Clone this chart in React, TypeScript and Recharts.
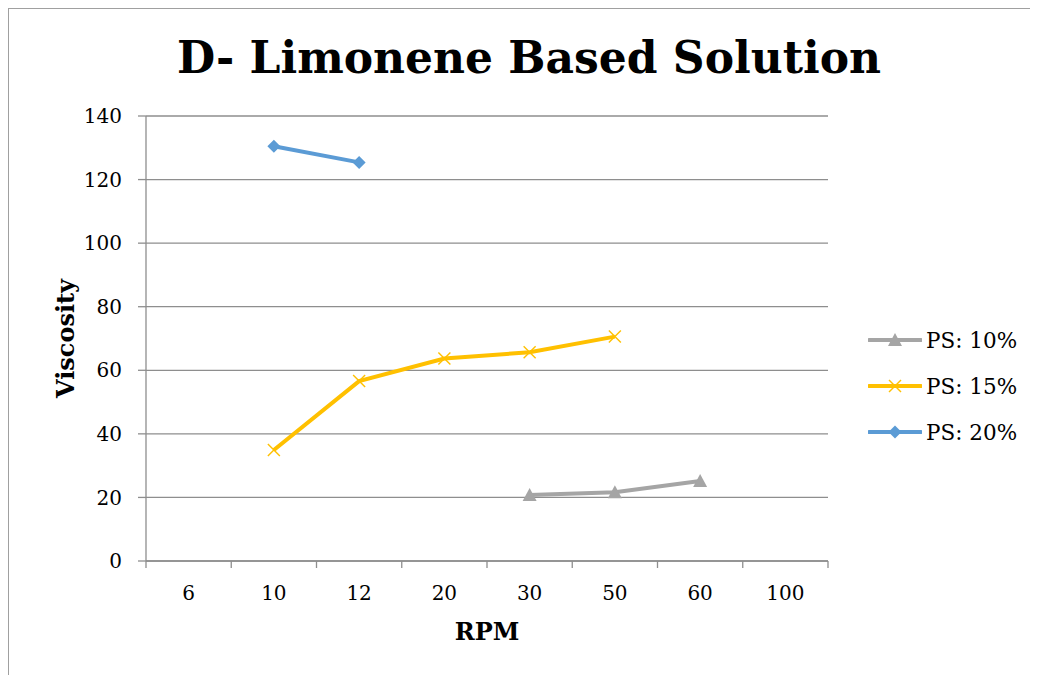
import React from 'react';
import { LineChart, Line, XAxis, YAxis, CartesianGrid, Legend } from 'recharts';

const CATEGORIES = ['6', '10', '12', '20', '30', '50', '60', '100'];
const PS10 = [null, null, null, null, 20.8, 21.6, 25.2, null];
const PS15 = [null, 34.9, 56.6, 63.7, 65.7, 70.6, null, null];
const PS20 = [null, 130.5, 125.4, null, null, null, null, null];
const Y_TICKS = [0, 20, 40, 60, 80, 100, 120, 140];
const SERIES_NAMES = ['PS: 10%', 'PS: 15%', 'PS: 20%'];
const SERIES_KEYS = ['ps10', 'ps15', 'ps20'];
const SERIES_COLORS = ['#A5A5A5', '#FFC000', '#5B9BD5'];
const SERIES_MARKERS = ['triangle', 'cross', 'diamond'];

const data = CATEGORIES.map((c, i) => ({ rpm: c, ps10: PS10[i], ps15: PS15[i], ps20: PS20[i] }));

const W = 1030;
const H = 667;
const MARGIN = { top: 108, right: 0, bottom: 50, left: 0 };
const Y_AXIS_W = 138;
const LEGEND_W = 210;
const X_AXIS_H = 64;
const PLOT_W = W - MARGIN.left - MARGIN.right - Y_AXIS_W - LEGEND_W;

const SERIF = '"DejaVu Serif", Georgia, serif';
const AXIS_COLOR = '#8E8E8E';

function marker(type: string, cx: number, cy: number, color: string, key?: string) {
  if (type === 'triangle') {
    return <polygon key={key} points={`${cx},${cy - 7} ${cx + 7},${cy + 6} ${cx - 7},${cy + 6}`} fill={color} />;
  }
  if (type === 'diamond') {
    return <polygon key={key} points={`${cx},${cy - 6.5} ${cx + 6.5},${cy} ${cx},${cy + 6.5} ${cx - 6.5},${cy}`} fill={color} />;
  }
  return (
    <g key={key}>
      <line x1={cx - 6} y1={cy - 6} x2={cx + 6} y2={cy + 6} stroke={color} strokeWidth={1.4} />
      <line x1={cx - 6} y1={cy + 6} x2={cx + 6} y2={cy - 6} stroke={color} strokeWidth={1.4} />
    </g>
  );
}

const makeDot = (idx: number) => (p: any) => {
  const k = `dot-${idx}-${p.index}`;
  if (p.value == null || p.cy == null || isNaN(p.cy)) return <g key={k} />;
  return marker(SERIES_MARKERS[idx], p.cx, p.cy, SERIES_COLORS[idx], k);
};

const XTick = (props: any) => {
  const { x, y, payload, index } = props;
  const bw = PLOT_W / CATEGORIES.length;
  return (
    <g>
      <line x1={x - bw / 2} x2={x - bw / 2} y1={y} y2={y + 7} stroke={AXIS_COLOR} strokeWidth={1.3} />
      {index === CATEGORIES.length - 1 && (
        <line x1={x + bw / 2} x2={x + bw / 2} y1={y} y2={y + 7} stroke={AXIS_COLOR} strokeWidth={1.3} />
      )}
      <text x={x} y={y + 39} textAnchor="middle" fontFamily={SERIF} fontSize={20} fill="#000">
        {payload.value}
      </text>
    </g>
  );
};

const renderLegend = () => (
  <div style={{ width: LEGEND_W, paddingLeft: 40, boxSizing: 'border-box' }}>
    {SERIES_NAMES.map((n, i) => (
      <div key={n} style={{ display: 'flex', alignItems: 'center', height: 46 }}>
        <svg width={54} height={20} style={{ display: 'block' }}>
          <line x1={1} y1={10} x2={53} y2={10} stroke={SERIES_COLORS[i]} strokeWidth={4} strokeLinecap="round" />
          {marker(SERIES_MARKERS[i], 27, 10, SERIES_COLORS[i])}
        </svg>
        <span style={{ marginLeft: 4, fontFamily: SERIF, fontSize: 21.5, color: '#000', whiteSpace: 'nowrap' }}>{n}</span>
      </div>
    ))}
  </div>
);

export default function App() {
  return (
    <div style={{ position: 'relative', width: W, height: H }}>
      <div
        style={{
          position: 'absolute',
          left: -1,
          top: -1,
          width: W + 10,
          height: H + 10,
          borderTop: '2px solid #A0A0A0',
          borderLeft: '2px solid #A0A0A0',
          pointerEvents: 'none',
        }}
      />
      <div
        style={{
          position: 'absolute',
          left: 0,
          top: 24,
          width: 1042,
          textAlign: 'center',
          fontFamily: SERIF,
          fontWeight: 'bold',
          fontSize: 44,
          lineHeight: '52px',
          color: '#000',
        }}
      >
        D- Limonene Based Solution
      </div>
      <LineChart width={W} height={H} data={data} margin={MARGIN}>
        <CartesianGrid vertical={false} stroke={AXIS_COLOR} strokeWidth={1.3} />
        <XAxis
          dataKey="rpm"
          scale="band"
          height={X_AXIS_H}
          tickSize={0}
          tickMargin={0}
          tickLine={false}
          axisLine={{ stroke: AXIS_COLOR, strokeWidth: 1.3 }}
          tick={<XTick />}
          interval={0}
          label={{
            content: (p: any) => {
              const vb = p.viewBox;
              return (
                <text x={vb.x + vb.width / 2} y={vb.y + 79} textAnchor="middle" fontFamily={SERIF} fontWeight="bold" fontSize={24} fill="#000">
                  RPM
                </text>
              );
            },
          }}
        />
        <YAxis
          width={Y_AXIS_W}
          domain={[0, 140]}
          ticks={Y_TICKS}
          interval={0}
          tickSize={8}
          tickMargin={16}
          tickLine={{ stroke: AXIS_COLOR, strokeWidth: 1.3 }}
          axisLine={{ stroke: AXIS_COLOR, strokeWidth: 1.3 }}
          tick={{ fontFamily: SERIF, fontSize: 20, fill: '#000' }}
          label={{
            content: (p: any) => {
              const vb = p.viewBox;
              const cx = 66;
              const cy = vb.y + vb.height / 2;
              return (
                <text x={cx} y={cy} transform={`rotate(-90 ${cx} ${cy})`} textAnchor="middle" fontFamily={SERIF} fontWeight="bold" fontSize={24} fill="#000">
                  Viscosity
                </text>
              );
            },
          }}
        />
        <Legend layout="vertical" align="right" verticalAlign="middle" content={renderLegend} wrapperStyle={{ top: 309, right: 0 }} />
        {SERIES_KEYS.map((k, i) => (
          <Line
            key={k}
            dataKey={k}
            name={SERIES_NAMES[i]}
            stroke={SERIES_COLORS[i]}
            strokeWidth={4}
            dot={makeDot(i)}
            activeDot={false}
            connectNulls={false}
            isAnimationActive={false}
          />
        ))}
      </LineChart>
    </div>
  );
}
